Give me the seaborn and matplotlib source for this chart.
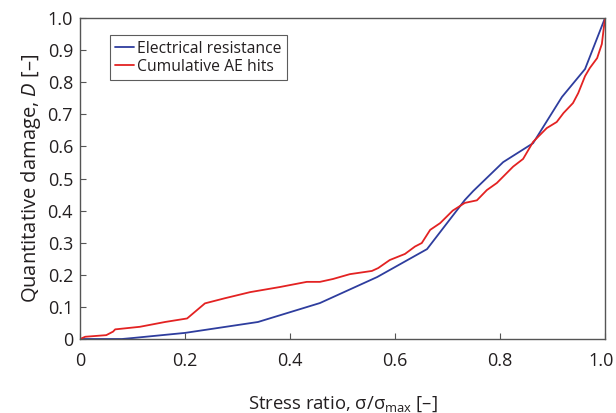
import numpy as np
import pandas as pd
import matplotlib
matplotlib.use("Agg")
import matplotlib.pyplot as plt
import matplotlib.transforms as mtransforms
import seaborn as sns

# Electrical resistance series
er_x = [0.0, 0.08, 0.1, 0.2, 0.339, 0.457, 0.566, 0.661, 0.733, 0.749, 0.806, 0.863, 0.918, 0.962, 1.0]
er_y = [0.0, 0.0, 0.003, 0.019, 0.053, 0.112, 0.193, 0.28, 0.433, 0.461, 0.551, 0.61, 0.754, 0.841, 1.0]

# Cumulative AE hits series
ae_x = [0.0, 0.01, 0.05, 0.063, 0.067, 0.114, 0.162, 0.204, 0.238, 0.276, 0.324, 0.381, 0.4,
        0.432, 0.457, 0.482, 0.514, 0.556, 0.568, 0.59, 0.619, 0.638, 0.651, 0.667, 0.686,
        0.71, 0.733, 0.756, 0.775, 0.794, 0.825, 0.844, 0.863, 0.889, 0.908, 0.921, 0.939,
        0.949, 0.962, 0.971, 0.985, 0.994, 1.0]
ae_y = [0.0, 0.007, 0.012, 0.023, 0.03, 0.038, 0.053, 0.064, 0.111, 0.127, 0.146, 0.162, 0.168,
        0.178, 0.178, 0.187, 0.202, 0.212, 0.221, 0.246, 0.265, 0.288, 0.299, 0.34, 0.361,
        0.40, 0.424, 0.432, 0.464, 0.486, 0.537, 0.561, 0.614, 0.657, 0.676, 0.704, 0.735,
        0.766, 0.819, 0.844, 0.875, 0.919, 1.0]

series_names = ["Electrical resistance", "Cumulative AE hits"]
x_ticks = [0, 0.2, 0.4, 0.6, 0.8, 1.0]
x_tick_labels = ["0", "0.2", "0.4", "0.6", "0.8", "1.0"]
y_ticks = [0, 0.1, 0.2, 0.3, 0.4, 0.5, 0.6, 0.7, 0.8, 0.9, 1.0]
y_tick_labels = ["0", "0.1", "0.2", "0.3", "0.4", "0.5", "0.6", "0.7", "0.8", "0.9", "1.0"]

df = pd.concat([
    pd.DataFrame({"x": er_x, "y": er_y, "series": series_names[0]}),
    pd.DataFrame({"x": ae_x, "y": ae_y, "series": series_names[1]}),
], ignore_index=True)

sns.set_style("white")
plt.rcParams["font.family"] = ["Open Sans", "DejaVu Sans"]
plt.rcParams["mathtext.fontset"] = "custom"
plt.rcParams["mathtext.rm"] = "Open Sans"
plt.rcParams["mathtext.it"] = "Open Sans:italic"

fig = plt.figure(figsize=(6.16, 4.13), dpi=100)
ax = fig.add_axes([80 / 616, 1 - 339 / 413, 525 / 616, 321 / 413])

palette = {series_names[0]: "#2e3d9e", series_names[1]: "#e32222"}
sns.lineplot(data=df, x="x", y="y", hue="series", palette=palette, sort=False,
             estimator=None, ax=ax, linewidth=1.3)

ax.set_xlim(0, 1.0)
ax.set_ylim(0, 1.0)
ax.set_xticks(x_ticks)
ax.set_xticklabels(x_tick_labels)
ax.set_yticks(y_ticks)
ax.set_yticklabels(y_tick_labels)
ax.tick_params(axis="both", direction="in", length=4, width=0.8, color="#555555",
               labelsize=13, labelcolor="#231f20", bottom=True, left=True, top=False, right=False)
ax.tick_params(axis="x", pad=9)
ax.tick_params(axis="y", pad=5)
for s in ax.spines.values():
    s.set_color("#555555")
    s.set_linewidth(1.0)

# keep the last x tick label inside the figure
last = ax.get_xticklabels()[-1]
last.set_transform(last.get_transform() + mtransforms.ScaledTranslation(-4 / 100, 0, fig.dpi_scale_trans))

ax.set_xlabel(r"Stress ratio, σ/σ$_\mathregular{max}$ [–]", fontsize=13.3, color="#231f20", labelpad=18)
ax.set_ylabel(r"Quantitative damage, $\mathit{D}$ [–]", fontsize=14.5, color="#231f20", labelpad=3)

leg = ax.legend(loc="upper left", bbox_to_anchor=(0.057, 0.947), frameon=True, fancybox=False,
                fontsize=11.3, handlelength=1.2, handletextpad=0.2, borderpad=0.35,
                labelspacing=0.15, borderaxespad=0, title=None)
leg.get_frame().set_edgecolor("#333333")
leg.get_frame().set_linewidth(0.8)
for t in leg.get_texts():
    t.set_color("#231f20")

fig.savefig("out.png", dpi=100)
